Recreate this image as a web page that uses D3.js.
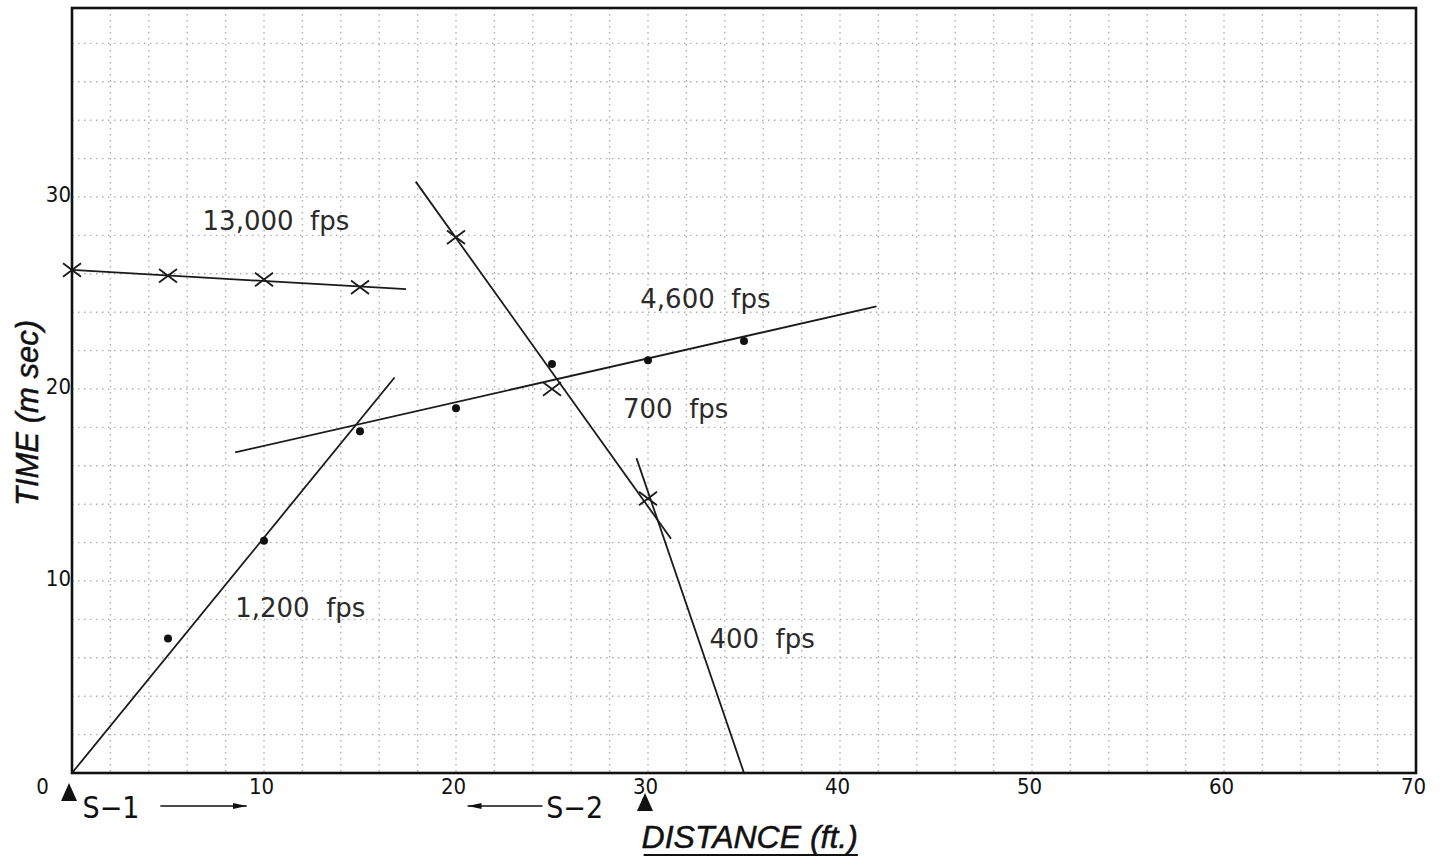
<!DOCTYPE html>
<html>
<head>
<meta charset="utf-8">
<script src="https://cdn.jsdelivr.net/npm/d3@7"></script>
<style>
  body { margin: 0; background: #fff; }
  svg { display: block; }
  .tick text { font-family: "DejaVu Sans Condensed", "Liberation Sans Narrow", "DejaVu Sans", sans-serif; font-stretch: condensed; }
</style>
</head>
<body>
<div id="chart"></div>
<script>
// readings (distance in ft, time in m sec)
let xTicks = [0, 10, 20, 30, 40, 50, 60, 70];
let yTicks = [10, 20, 30];

// X marks (reverse shot, S-2)
let crossX13000 = [0, 5, 10, 15];
let crossT13000 = [26.2, 25.9, 25.7, 25.3];
let crossX700 = [20, 25, 30];
let crossT700 = [27.9, 20.0, 14.3];

// dots (forward shot, S-1)
let dotX1200 = [5, 10, 15];
let dotT1200 = [7.0, 12.1, 17.8];
let dotX4600 = [20, 25, 30, 35];
let dotT4600 = [19.0, 21.3, 21.5, 22.5];

// fitted velocity lines: [x1, t1, x2, t2]
let lineNames = ["1,200", "13,000", "4,600", "700", "400"];
let lineEnds = [
  [0, 0, 16.8, 20.6],
  [0, 26.2, 17.4, 25.2],
  [8.5, 16.7, 41.9, 24.3],
  [17.9, 30.8, 31.2, 12.2],
  [29.4, 16.4, 35.0, 0],
];
// label anchor (left, baseline) for each line
let labelText = ["1,200  fps", "13,000  fps", "4,600  fps", "700  fps", "400  fps"];
let labelX = [8.5, 6.8, 29.6, 28.7, 33.2];
let labelT = [8.1, 28.3, 24.2, 18.5, 6.5];

let margin = { top: 8, right: 26, bottom: 92, left: 72 };
let width = 1442 - margin.left - margin.right;
let height = 865 - margin.top - margin.bottom;

let x = d3.scaleLinear().domain([0, 70]).range([0, width]);
let y = d3.scaleLinear().domain([0, height / (width / 70)]).range([height, 0]);

let svg = d3
  .select("#chart")
  .append("svg")
  .attr("width", 1442)
  .attr("height", 865);

let g = svg
  .append("g")
  .attr("transform", "translate(" + margin.left + "," + margin.top + ")");

// dotted grid every 2 units
let gridStep = 2;
g.append("g")
  .selectAll("line")
  .data(d3.range(gridStep, 70, gridStep))
  .enter()
  .append("line")
  .attr("x1", (d) => x(d))
  .attr("x2", (d) => x(d))
  .attr("y1", 0)
  .attr("y2", height)
  .attr("stroke", "#b0b0b0")
  .attr("stroke-width", 1.4)
  .attr("stroke-dasharray", "1.5,4.5");
g.append("g")
  .selectAll("line")
  .data(d3.range(gridStep, y.domain()[1], gridStep))
  .enter()
  .append("line")
  .attr("x1", 0)
  .attr("x2", width)
  .attr("y1", (d) => y(d))
  .attr("y2", (d) => y(d))
  .attr("stroke", "#b0b0b0")
  .attr("stroke-width", 1.4)
  .attr("stroke-dasharray", "1.5,4.5");

// axes (labels only)
let xAxis = g
  .append("g")
  .attr("transform", "translate(0," + height + ")")
  .call(d3.axisBottom(x).tickValues(xTicks).tickSize(0).tickPadding(5).tickFormat(d3.format("d")));
xAxis.select(".domain").remove();
xAxis.selectAll("text").attr("font-size", 22).attr("fill", "#111").attr("dx", -3);
xAxis.selectAll(".tick").filter((d) => d === 0).select("text").attr("dx", -30);

let yAxis = g
  .append("g")
  .call(d3.axisLeft(y).tickValues(yTicks).tickSize(0).tickPadding(1).tickFormat(d3.format("d")));
yAxis.select(".domain").remove();
yAxis.selectAll("text").attr("font-size", 22).attr("fill", "#111").attr("dy", "0.2em");

// frame
g.append("rect")
  .attr("width", width)
  .attr("height", height)
  .attr("fill", "none")
  .attr("stroke", "#111")
  .attr("stroke-width", 2.6);

// fitted lines
g.append("g")
  .selectAll("line")
  .data(lineEnds)
  .enter()
  .append("line")
  .attr("x1", (d) => x(d[0]))
  .attr("y1", (d) => y(d[1]))
  .attr("x2", (d) => x(d[2]))
  .attr("y2", (d) => y(d[3]))
  .attr("stroke", "#1a1a1a")
  .attr("stroke-width", 1.8);

// X markers
let crosses = crossX13000.map((d, i) => [d, crossT13000[i]])
  .concat(crossX700.map((d, i) => [d, crossT700[i]]));
let cr = 9;
g.append("g")
  .selectAll("path")
  .data(crosses)
  .enter()
  .append("path")
  .attr("d", (d) => {
    let cx = x(d[0]), cy = y(d[1]);
    return `M${cx - cr},${cy - cr * 0.75}L${cx + cr},${cy + cr * 0.75}M${cx - cr},${cy + cr * 0.75}L${cx + cr},${cy - cr * 0.75}`;
  })
  .attr("stroke", "#1a1a1a")
  .attr("stroke-width", 1.8)
  .attr("fill", "none");

// dots
let dots = dotX1200.map((d, i) => [d, dotT1200[i]])
  .concat(dotX4600.map((d, i) => [d, dotT4600[i]]));
g.append("g")
  .selectAll("circle")
  .data(dots)
  .enter()
  .append("circle")
  .attr("cx", (d) => x(d[0]))
  .attr("cy", (d) => y(d[1]))
  .attr("r", 4)
  .attr("fill", "#111");

// velocity labels
g.append("g")
  .selectAll("text")
  .data(labelText)
  .enter()
  .append("text")
  .attr("x", (d, i) => x(labelX[i]))
  .attr("y", (d, i) => y(labelT[i]))
  .attr("font-family", "'DejaVu Sans', sans-serif")
  .attr("font-size", 26)
  .attr("fill", "#2a2a2a")
  .style("white-space", "pre")
  .text((d) => d);

// shot points S-1 / S-2
let shotX = [0, 30];
let shotY = [height + 28, height + 38];
g.append("g")
  .selectAll("path")
  .data(shotX)
  .enter()
  .append("path")
  .attr("d", (d, i) => {
    let cx = x(d) - 3, cy = shotY[i];
    return `M${cx - 8},${cy}L${cx + 8},${cy}L${cx},${cy - 18}Z`;
  })
  .attr("fill", "#111");

let annoFont = "'DejaVu Sans Condensed', 'Liberation Sans Narrow', 'DejaVu Sans', sans-serif";
g.append("text")
  .attr("x", x(0.55))
  .attr("y", height + 45)
  .attr("font-family", annoFont)
  .attr("font-stretch", "condensed")
  .attr("font-size", 30)
  .attr("fill", "#111")
  .text("S\u22121");
g.append("text")
  .attr("x", x(24.7))
  .attr("y", height + 45)
  .attr("font-family", annoFont)
  .attr("font-stretch", "condensed")
  .attr("font-size", 30)
  .attr("fill", "#111")
  .text("S\u22122");

svg.append("defs")
  .append("marker")
  .attr("id", "head")
  .attr("viewBox", "0 0 14 6")
  .attr("refX", 14)
  .attr("refY", 3)
  .attr("markerWidth", 14)
  .attr("markerHeight", 6)
  .attr("markerUnits", "userSpaceOnUse")
  .attr("orient", "auto")
  .append("path")
  .attr("d", "M0,0L14,3L0,6Z")
  .attr("fill", "#111");

let arrows = [[4.6, 9.1], [24.5, 20.6]];
g.append("g")
  .selectAll("line")
  .data(arrows)
  .enter()
  .append("line")
  .attr("x1", (d) => x(d[0]))
  .attr("x2", (d) => x(d[1]))
  .attr("y1", height + 33)
  .attr("y2", height + 33)
  .attr("stroke", "#111")
  .attr("stroke-width", 1.7)
  .attr("marker-end", "url(#head)");

// axis titles
let xTitle = g.append("text")
  .attr("x", x(35.3))
  .attr("y", height + 75)
  .attr("text-anchor", "middle")
  .attr("font-family", "'Liberation Sans', Arial, sans-serif")
  .attr("font-style", "italic")
  .attr("font-size", 32)
  .attr("fill", "#111")
  .attr("stroke", "#111")
  .attr("stroke-width", 0.5)
  .text("DISTANCE (ft.)");
let bb = xTitle.node().getBBox();
g.append("line")
  .attr("x1", bb.x + 2)
  .attr("x2", bb.x + bb.width)
  .attr("y1", height + 82)
  .attr("y2", height + 82)
  .attr("stroke", "#111")
  .attr("stroke-width", 2);

svg.append("text")
  .attr("transform", "translate(38,413) rotate(-90)")
  .attr("text-anchor", "middle")
  .attr("font-family", "'Liberation Sans', Arial, sans-serif")
  .attr("font-style", "italic")
  .attr("font-size", 31)
  .attr("fill", "#111")
  .attr("stroke", "#111")
  .attr("stroke-width", 0.5)
  .text("TIME (m sec)");
</script>
</body>
</html>
